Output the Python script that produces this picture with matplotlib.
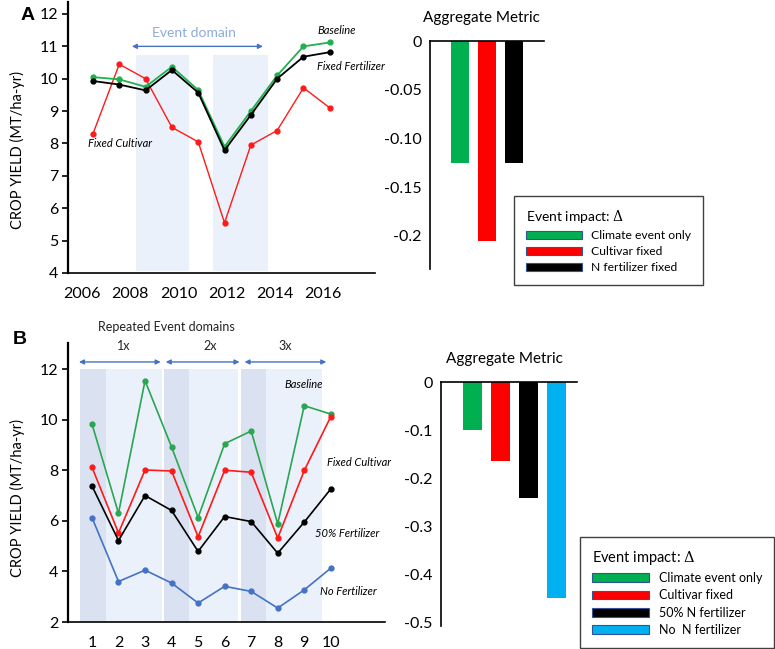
import matplotlib
matplotlib.use('Agg')
import matplotlib.pyplot as plt
from matplotlib.patches import Patch

plt.rcParams['font.family'] = ['Lato', 'DejaVu Sans']
plt.rcParams['mathtext.fontset'] = 'dejavuserif'

# ---- panel A data ----
a_year_ticks = [2006, 2008, 2010, 2012, 2014, 2016]
a_baseline = [10.05, 9.98, 9.75, 10.37, 9.65, 7.9, 9.0, 10.1, 11.0, 11.12]
a_fixed_fert = [9.93, 9.82, 9.64, 10.27, 9.57, 7.79, 8.88, 10.0, 10.68, 10.82]
a_fixed_cult = [8.3, 10.45, 10.0, 8.5, 8.05, 5.55, 7.95, 8.4, 9.72, 9.1]

a_bar_labels = ['Climate event only', 'Cultivar fixed', 'N fertilizer fixed']
a_bar_values = [-0.125, -0.205, -0.125]
a_bar_ticks = [0, -0.05, -0.10, -0.15, -0.2]
a_bar_ticklabels = ['0', '-0.05', '-0.10', '-0.15', '-0.2']

# ---- panel B data ----
b_x = [1, 2, 3, 4, 5, 6, 7, 8, 9, 10]
b_baseline = [9.83, 6.3, 11.54, 8.92, 6.13, 9.05, 9.55, 5.88, 10.55, 10.22]
b_fixed_cult = [8.12, 5.52, 8.01, 7.97, 5.37, 8.0, 7.92, 5.32, 7.99, 10.12]
b_half_fert = [7.38, 5.22, 7.0, 6.41, 4.79, 6.17, 5.97, 4.72, 5.95, 7.26]
b_no_fert = [6.13, 3.6, 4.05, 3.54, 2.75, 3.41, 3.21, 2.55, 3.27, 4.13]

b_bar_labels = ['Climate event only', 'Cultivar fixed', '50% N fertilizer', 'No  N fertilizer']
b_bar_values = [-0.1, -0.165, -0.241, -0.449]
b_bar_ticks = [0, -0.1, -0.2, -0.3, -0.4, -0.5]
b_bar_ticklabels = ['0', '-0.1', '-0.2', '-0.3', '-0.4', '-0.5']

GREEN_A = '#1fb14f'
GREEN_B = '#2aa552'
RED = '#ff1a1a'
BLUE_LINE = '#4472c4'
BAR_COLORS = ['#00b050', '#ff0000', '#000000', '#00b0f0']
SHADE = '#ebf1fa'
SHADE_DARK = '#dae2f2'

fig = plt.figure(figsize=(7.75, 6.49), dpi=100)


def style_line_axes(ax):
    ax.spines['top'].set_visible(False)
    ax.spines['right'].set_visible(False)
    ax.spines['left'].set_linewidth(1.6)
    ax.spines['bottom'].set_linewidth(1.2)
    ax.tick_params(axis='y', length=4, width=1.2, labelsize=11.5, pad=3)
    ax.tick_params(axis='x', length=0, labelsize=11.5, pad=10)


# ================= panel A lines =================
axA = fig.add_axes([0.0877, 0.5794, 0.3962, 0.4175])
idx = list(range(len(a_baseline)))
axA.fill_between([1.63, 3.65], 4.06, 10.72, color=SHADE, lw=0, zorder=0)
axA.fill_between([4.56, 6.65], 4.06, 10.72, color=SHADE, lw=0, zorder=0)
axA.plot(idx, a_fixed_cult, color=RED, lw=1.0, marker='o', ms=3.5, zorder=3)
axA.plot(idx, a_baseline, color=GREEN_A, lw=1.3, marker='o', ms=3.5, zorder=3)
axA.plot(idx, a_fixed_fert, color='black', lw=1.3, marker='o', ms=3.5, zorder=4)
axA.set_xlim(-0.95, 10.72)
axA.set_ylim(4, 12.37)
axA.set_yticks(range(4, 13))
axA.set_xticks([(y - 2006.46) / 1.09 for y in a_year_ticks])
axA.set_xticklabels([str(y) for y in a_year_ticks])
style_line_axes(axA)

axA.annotate('', xy=(1.48, 11.0), xytext=(6.46, 11.0),
             arrowprops=dict(arrowstyle='<|-|>', color=BLUE_LINE, lw=1.0,
                             mutation_scale=7, shrinkA=0, shrinkB=0))
axA.text(3.84, 11.4, 'Event domain', color='#8eaadb', fontsize=10,
         ha='center', va='center')
axA.text(8.55, 11.5, 'Baseline', fontsize=8, style='italic', va='center',
         clip_on=False)
axA.text(8.52, 10.37, 'Fixed Fertilizer', fontsize=8, style='italic',
         va='center', clip_on=False)
axA.text(-0.19, 8.0, 'Fixed Cultivar', fontsize=8, style='italic', va='center')

fig.text(0.023, 1 - 150 / 649, 'CROP YIELD (MT/ha-yr)', rotation=90,
         ha='center', va='center', fontsize=10.5)
fig.text(0.036, 1 - 15 / 649, 'A', fontsize=14, fontweight='bold',
         family='Liberation Sans', ha='center', va='center')

# ================= panel A bars =================
axAb = fig.add_axes([0.5548, 0.5855, 0.1471, 0.3513])
for i, (v, c) in enumerate(zip(a_bar_values, BAR_COLORS)):
    axAb.bar(i + 1, v, width=0.68, color=c, align='center')
axAb.set_xlim(-0.11, 4.11)
axAb.set_ylim(-0.234, 0)
axAb.set_yticks(a_bar_ticks)
axAb.set_yticklabels(a_bar_ticklabels)
axAb.set_xticks([])
axAb.spines['right'].set_visible(False)
axAb.spines['bottom'].set_visible(False)
axAb.spines['top'].set_linewidth(1.2)
axAb.spines['left'].set_linewidth(1.2)
axAb.tick_params(axis='y', length=0, labelsize=11.5, pad=6)
axAb.set_title('Aggregate Metric', fontsize=11, pad=14, loc='left', x=-0.06)

handlesA = [Patch(facecolor=c, edgecolor='#2f5597', lw=0.8, label=l)
            for c, l in zip(BAR_COLORS, a_bar_labels)]
legA = fig.legend(handles=handlesA, loc='upper left',
                  bbox_to_anchor=(514 / 775, 1 - 196 / 649), borderaxespad=0,
                  fontsize=8.7, title=r'Event impact: $\Delta$', title_fontsize=10,
                  handlelength=4.6, handleheight=0.7, labelspacing=0.42,
                  handletextpad=0.75, borderpad=1.0, alignment='left',
                  fancybox=False, framealpha=1, edgecolor='#404040')
legA.get_frame().set_linewidth(1.0)

# ================= panel B lines =================
axB = fig.add_axes([0.0877, 0.0416, 0.409, 0.4299])
for x0, x1, xd in [(0.55, 3.63, 1.53), (3.71, 6.49, 4.65), (6.60, 9.65, 7.54)]:
    axB.fill_between([x0, x1], 2, 12, color=SHADE, lw=0, zorder=0)
    axB.fill_between([x0, xd], 2, 12, color=SHADE_DARK, lw=0, zorder=0)
axB.plot(b_x, b_baseline, color=GREEN_B, lw=1.2, marker='o', ms=3.5, zorder=3)
axB.plot(b_x, b_fixed_cult, color=RED, lw=1.2, marker='o', ms=3.5, zorder=3)
axB.plot(b_x, b_half_fert, color='black', lw=1.2, marker='o', ms=3.5, zorder=3)
axB.plot(b_x, b_no_fert, color=BLUE_LINE, lw=1.2, marker='o', ms=3.5, zorder=3)
axB.set_xlim(0.096, 12.04)
axB.set_ylim(2, 13.03)
axB.set_yticks(range(2, 13, 2))
axB.set_xticks(b_x)
style_line_axes(axB)

for (x0, x1), lab, xl in zip([(0.51, 3.59), (3.78, 6.56), (6.75, 9.83)],
                             ['1x', '2x', '3x'], [2.2, 5.47, 8.3]):
    axB.annotate('', xy=(x0, 12.28), xytext=(x1, 12.28),
                 arrowprops=dict(arrowstyle='<|-|>', color=BLUE_LINE, lw=1.0,
                                 mutation_scale=7, shrinkA=0, shrinkB=0))
    axB.text(xl, 12.9, lab, fontsize=9, ha='center', va='center', color='#222222')
axB.text(3.79, 13.66, 'Repeated Event domains', fontsize=9, ha='center',
         va='center', color='#222222', clip_on=False)
axB.text(8.27, 11.4, 'Baseline', fontsize=8, style='italic', va='center')
axB.text(9.85, 8.32, 'Fixed Cultivar', fontsize=8, style='italic',
         va='center', clip_on=False)
axB.text(9.4, 5.5, '50% Fertilizer', fontsize=8, style='italic', va='center',
         clip_on=False)
axB.text(9.59, 3.2, 'No Fertilizer', fontsize=8, style='italic', va='center',
         clip_on=False)

fig.text(0.023, 1 - 498 / 649, 'CROP YIELD (MT/ha-yr)', rotation=90,
         ha='center', va='center', fontsize=10.5)
fig.text(0.026, 1 - 340 / 649, 'B', fontsize=14, fontweight='bold',
         family='Liberation Sans', ha='center', va='center')

# ================= panel B bars =================
axBb = fig.add_axes([0.569, 0.0354, 0.1755, 0.376])
for i, (v, c) in enumerate(zip(b_bar_values, BAR_COLORS)):
    axBb.bar(i + 1, v, width=0.68, color=c, align='center')
axBb.set_xlim(-0.125, 4.73)
axBb.set_ylim(-0.507, 0)
axBb.set_yticks(b_bar_ticks)
axBb.set_yticklabels(b_bar_ticklabels)
axBb.set_xticks([])
axBb.spines['right'].set_visible(False)
axBb.spines['bottom'].set_visible(False)
axBb.spines['top'].set_linewidth(1.2)
axBb.spines['left'].set_linewidth(1.2)
axBb.tick_params(axis='y', length=0, labelsize=11.5, pad=6)
axBb.set_title('Aggregate Metric', fontsize=11, pad=14, loc='left', x=0.04)

handlesB = [Patch(facecolor=c, edgecolor='#2f5597', lw=0.8, label=l)
            for c, l in zip(BAR_COLORS, b_bar_labels)]
legB = fig.legend(handles=handlesB, loc='upper left',
                  bbox_to_anchor=(580 / 775, 1 - 537 / 649), borderaxespad=0,
                  fontsize=9, title=r'Event impact: $\Delta$', title_fontsize=10.5,
                  handlelength=4.6, handleheight=0.7, labelspacing=0.42,
                  handletextpad=0.75, borderpad=0.95, alignment='left',
                  fancybox=False, framealpha=1, edgecolor='#404040')
legB.get_frame().set_linewidth(1.0)

fig.savefig('out.png', dpi=100)
